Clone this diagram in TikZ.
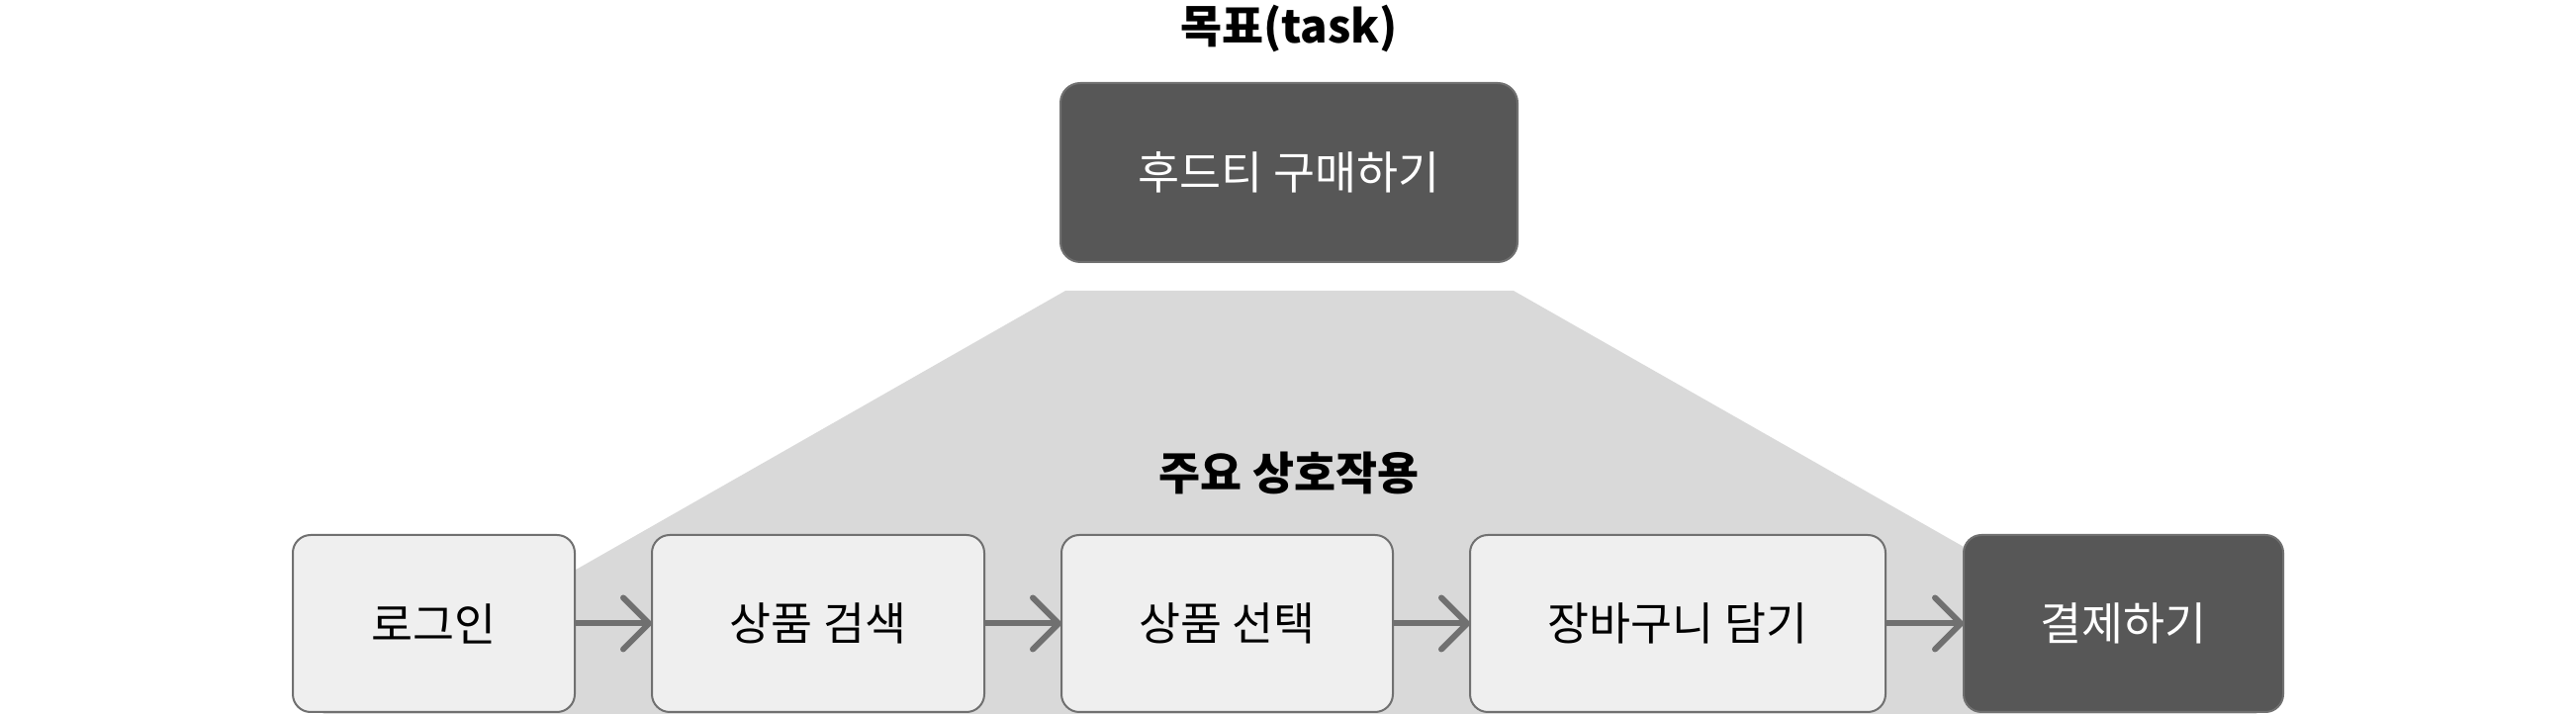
\documentclass[tikz,border=0pt]{standalone}
\usepackage{fontspec}
\setmainfont{Noto Sans CJK KR}
\usepackage{tikz}
\usetikzlibrary{arrows.meta, positioning}
\definecolor{taskdark}{HTML}{575757}
\definecolor{steplight}{HTML}{EFEFEF}
\definecolor{stepline}{HTML}{707070}
\definecolor{bandgray}{HTML}{D9D9D9}

\begin{document}
\begin{tikzpicture}[
  stepbox/.style={draw=stepline, line width=0.02cm, fill=steplight,
    rounded corners=0.18cm, minimum height=1.79cm, inner sep=0pt,
    outer sep=0pt, font=\fontsize{13}{15}\selectfont},
  donebox/.style={stepbox, fill=taskdark, text=white},
  flow/.style={-{Straight Barb[length=0.26cm, width=0.52cm, round]},
    stepline, line width=0.06cm}
]
  \useasboundingbox (0,0) rectangle (26.04,7.22);

  % Band behind the interactions
  \fill[bandgray] (10.77,4.28) -- (15.30,4.28) -- (22.82,0) -- (3.26,0) -- cycle;

  % Goal
  \node[font=\fontsize{13}{15}\selectfont\bfseries] (goaltitle) at (13.03,6.93) {목표(task)};
  \node[donebox, minimum width=4.62cm, minimum height=1.81cm,
    rounded corners=0.2cm] (goal) at (13.03,5.475) {후드티 구매하기};

  % Main interactions
  \node[font=\fontsize{13}{15}\selectfont\bfseries] (acttitle) at (13.03,2.44) {주요 상호작용};
  \node[stepbox, minimum width=2.85cm] (login) at (4.385,0.915) {로그인};
  \node[stepbox, minimum width=3.36cm, right=0.78cm of login] (search) {상품 검색};
  \node[stepbox, minimum width=3.35cm, right=0.78cm of search] (pick) {상품 선택};
  \node[stepbox, minimum width=4.20cm, right=0.78cm of pick] (cart) {장바구니 담기};
  \node[donebox, minimum width=3.23cm, right=0.79cm of cart] (pay) {결제하기};

  % Flow
  \foreach \a/\b in {login/search, search/pick, pick/cart, cart/pay}
    \draw[flow] (\a) -- (\b);
\end{tikzpicture}
\end{document}
